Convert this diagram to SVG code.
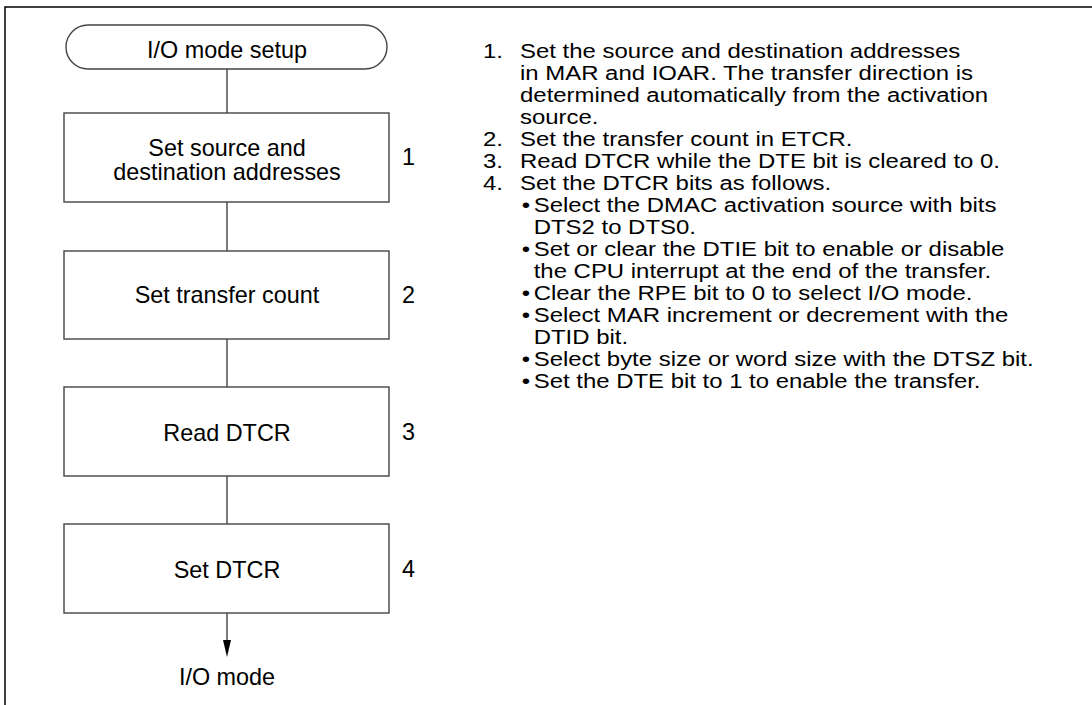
<svg xmlns="http://www.w3.org/2000/svg" width="1092" height="705" viewBox="0 0 1092 705">
<style>
.frame{stroke:#000;stroke-width:1.5;fill:none}
.node{fill:#fff;stroke:#444;stroke-width:1.4}
.conn{stroke:#444;stroke-width:1.4;fill:none}
.t{font-family:"Liberation Sans",Arial,sans-serif;font-size:23.4px;fill:#000}
.c{text-anchor:middle}
.r{font-family:"Liberation Sans",Arial,sans-serif;font-size:21px;fill:#000}
</style>
<rect width="1092" height="705" fill="#fff"/>
<path class="frame" d="M5,705 V7 H1092"/>
<g id="connectors">
<line class="conn" x1="227" y1="69" x2="227" y2="113"/>
<line class="conn" x1="227" y1="202" x2="227" y2="251"/>
<line class="conn" x1="227" y1="339" x2="227" y2="387"/>
<line class="conn" x1="227" y1="476" x2="227" y2="524"/>
<line class="conn" x1="227" y1="613" x2="227" y2="642"/>
<polygon points="223,640 231,640 227,657" fill="#000"/>
</g>
<g id="start">
<rect class="node" x="66" y="25" width="321" height="44" rx="22" ry="22"/>
<text class="t c" x="227" y="58">I/O mode setup</text>
</g>
<g id="step1">
<rect class="node" x="64" y="113" width="325" height="89"/>
<text class="t c" x="227" y="156">Set source and</text>
<text class="t c" x="227" y="180">destination addresses</text>
<text class="t" x="402" y="165">1</text>
</g>
<g id="step2">
<rect class="node" x="64" y="251" width="325" height="88"/>
<text class="t c" x="227" y="303">Set transfer count</text>
<text class="t" x="402" y="303">2</text>
</g>
<g id="step3">
<rect class="node" x="64" y="387" width="325" height="89"/>
<text class="t c" x="227" y="441">Read DTCR</text>
<text class="t" x="402" y="440">3</text>
</g>
<g id="step4">
<rect class="node" x="64" y="524" width="325" height="89"/>
<text class="t c" x="227" y="578">Set DTCR</text>
<text class="t" x="402" y="577">4</text>
</g>
<g id="end">
<text class="t c" x="227" y="685">I/O mode</text>
</g>
<g id="notes" class="r" transform="translate(483,0) scale(1.14,1)">
<text x="0" y="58">1.</text><text x="32.5" y="58">Set the source and destination addresses</text>
<text x="32.5" y="80">in MAR and IOAR. The transfer direction is</text>
<text x="32.5" y="102">determined automatically from the activation</text>
<text x="32.5" y="124">source.</text>
<text x="0" y="146">2.</text><text x="32.5" y="146">Set the transfer count in ETCR.</text>
<text x="0" y="168">3.</text><text x="32.5" y="168">Read DTCR while the DTE bit is cleared to 0.</text>
<text x="0" y="190">4.</text><text x="32.5" y="190">Set the DTCR bits as follows.</text>
<text x="34" y="212">•</text><text x="44.5" y="212">Select the DMAC activation source with bits</text>
<text x="44.5" y="234">DTS2 to DTS0.</text>
<text x="34" y="256">•</text><text x="44.5" y="256">Set or clear the DTIE bit to enable or disable</text>
<text x="44.5" y="278">the CPU interrupt at the end of the transfer.</text>
<text x="34" y="300">•</text><text x="44.5" y="300">Clear the RPE bit to 0 to select I/O mode.</text>
<text x="34" y="322">•</text><text x="44.5" y="322">Select MAR increment or decrement with the</text>
<text x="44.5" y="344">DTID bit.</text>
<text x="34" y="366">•</text><text x="44.5" y="366">Select byte size or word size with the DTSZ bit.</text>
<text x="34" y="388">•</text><text x="44.5" y="388">Set the DTE bit to 1 to enable the transfer.</text>
</g>
</svg>
